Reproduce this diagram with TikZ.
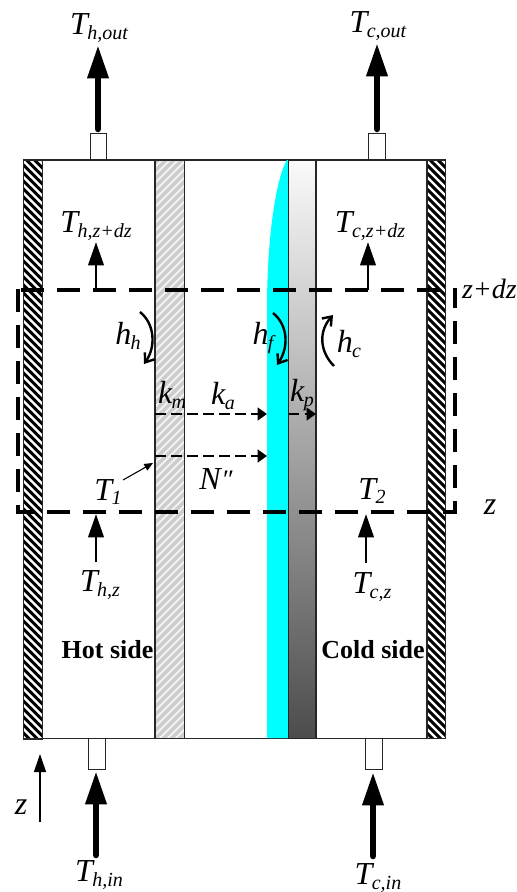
\documentclass[tikz,border=0pt]{standalone}
\usepackage{fontspec}
\setmainfont{Liberation Serif}
\usetikzlibrary{arrows.meta,calc}
\definecolor{flowcyan}{RGB}{0,255,255}
\newcommand{\lbl}[2]{{\fontsize{24}{26}\selectfont\itshape #1}\kern-0.5pt\raisebox{-3.5pt}{\fontsize{15}{16}\selectfont\itshape #2}}
\tikzset{
  x=0.75pt,y=-0.75pt,
  every node/.style={inner sep=0pt,outer sep=0pt,font=\fontsize{24}{26}\selectfont\itshape},
  outline/.style={draw=black!85,line width=0.9pt},
  bigflow/.style={line width=4.9pt,line cap=round,-{Triangle[length=25pt,width=15pt]}},
  midflow/.style={line width=2.2pt,-{Triangle[length=17.5pt,width=11.5pt]}},
  dashline/.style={line width=2.3pt,dash pattern=on 17.25pt off 9.75pt},
  dashflow/.style={line width=1.6pt,dash pattern=on 8pt off 4pt,-{Triangle[length=7pt,width=9.5pt]}},
  curl/.style={line width=1.8pt,-{Straight Barb[length=6pt,width=9pt,line width=1.8pt]}},
  port/.style={draw=black!85,fill=white,line width=0.8pt,minimum width=12.2pt},
  small arrow/.style={line width=0.8pt,-{Triangle[length=6.5pt,width=5.5pt]}},
  axis arrow/.style={line width=0.8pt,-{Triangle[length=13.5pt,width=9pt]}},
}
\newcommand{\hatchbox}[8]{% x1,y1,x2,y2,colour,slope sign,width,background
  \fill[#8] (#1,#2) rectangle (#3,#4);
  \begin{scope}
    \clip (#1,#2) rectangle (#3,#4);
    \foreach \k in {-40,-32,...,640}{
      \draw[#5,line width=#7] (#1-5,#2+\k) -- (#3+5,#2+\k+#6*1.0*#3-#6*1.0*#1+#6*10);
    }
  \end{scope}
  \draw[outline] (#1,#2) rectangle (#3,#4);
}
\begin{document}
\begin{tikzpicture}
\useasboundingbox (0,0) rectangle (517,892);
% frame
\draw[outline] (23.5,160) rectangle (445.5,738.5);
% walls and membrane
\hatchbox{23.5}{160}{42.5}{739}{black}{1}{2.2pt}{white}
\hatchbox{427}{160}{445.5}{738.5}{black}{1}{2.2pt}{white}
\hatchbox{155}{160}{184.5}{738.5}{black!20}{-1}{2.6pt}{black!5}
% condensate film
\fill[flowcyan] (287,160) .. controls (279,172) and (268,220) .. (267,300) -- (267,738) -- (288,738) -- (288,160) -- cycle;
% porous plate
\shade[top color=black!2,bottom color=black!70] (288.5,160) rectangle (316,738.5);
\draw[outline] (288.5,160) rectangle (316,738.5);
% ports
\node[port,anchor=south,minimum height=20pt] (pho) at (98.2,160) {};
\node[port,anchor=south,minimum height=20pt] (pco) at (377,160) {};
\node[port,anchor=north,minimum height=23pt] (phi) at (97,738.5) {};
\node[port,anchor=north,minimum height=23pt] (pci) at (374,738.5) {};
% end labels
\node (tho) at (99,28) {\lbl{T}{h,out}};
\node (tco) at (378,26) {\lbl{T}{c,out}};
\node (thi) at (99,875) {\lbl{T}{h,in}};
\node (tci) at (378,878) {\lbl{T}{c,in}};
% big arrows
\coordinate (ahof) at (98,129);
\coordinate (ahot) at (98,45);
\coordinate (acof) at (377,129);
\coordinate (acot) at (377,43);
\coordinate (ahif) at (96,855);
\coordinate (ahit) at (96,771);
\coordinate (acif) at (373,856);
\coordinate (acit) at (373,772);
\draw[bigflow] (ahof) -- (ahot);
\draw[bigflow] (acof) -- (acot);
\draw[bigflow] (ahif) -- (ahit);
\draw[bigflow] (acif) -- (acit);
% control volume
\coordinate (dtl) at (21,290);
\coordinate (dtr) at (440,290);
\coordinate (vtl) at (18,289);
\coordinate (dbl) at (18,512);
\coordinate (rb) at (455,512);
\coordinate (rt) at (455,288);
\draw[dashline] (dtl) -- (dtr);
\draw[dashline] (vtl) -- (dbl) -- (rb) -- (rt);
% local stream arrows
\node (thzd) at (96,226) {\lbl{T}{h,z+dz}};
\node (tczd) at (370,226) {\lbl{T}{c,z+dz}};
\node (thz) at (100,585) {\lbl{T}{h,z}};
\node (tcz) at (372,587) {\lbl{T}{c,z}};
\coordinate (a1f) at (96,290); \coordinate (a1t) at (96,242);
\coordinate (a2f) at (368,290); \coordinate (a2t) at (368,242);
\coordinate (a3f) at (96,562); \coordinate (a3t) at (96,514);
\coordinate (a4f) at (366,563); \coordinate (a4t) at (366,514);
\draw[midflow] (a1f) -- (a1t);
\draw[midflow] (a2f) -- (a2t);
\draw[midflow] (a3f) -- (a3t);
\draw[midflow] (a4f) -- (a4t);
% temperatures
\node (t1) at (108,492) {\lbl{T}{1}};
\node (t2) at (372,491) {\lbl{T}{2}};
\coordinate (t1a) at (123,480);
\coordinate (t1b) at (153,463);
\draw[small arrow] (t1a) -- (t1b);
% transfer arrows
\coordinate (d1f) at (155,414); \coordinate (d1t) at (267,414);
\coordinate (d2f) at (155,456); \coordinate (d2t) at (267,456);
\coordinate (d3f) at (288.5,414); \coordinate (d3t) at (316,414);
\draw[dashflow] (d1f) -- (d1t);
\draw[dashflow] (d2f) -- (d2t);
\draw[dashflow] (d3f) -- (d3t);
% coefficients
\node (hh) at (128,336) {\lbl{h}{h}};
\node (hf) at (263,338) {\lbl{h}{f}};
\node (hc) at (349,344) {\lbl{h}{c}};
\node (km) at (172,395) {\lbl{k}{m}};
\node (ka) at (223,396) {\lbl{k}{a}};
\node (kp) at (302,395) {\lbl{k}{p}};
\node (nn) at (216,479) {N\kern0.5pt\raisebox{0.5pt}{\fontsize{20}{20}\selectfont\itshape ″}};
\coordinate (c1a) at (140,312); \coordinate (c1b) at (144,364);
\coordinate (c2a) at (273,313); \coordinate (c2b) at (277,365);
\coordinate (c3a) at (334,366); \coordinate (c3b) at (333,315);
\draw[curl] (c1a) .. controls (155,324) and (156,347) .. (c1b);
\draw[curl] (c2a) .. controls (288,325) and (289,347) .. (c2b);
\draw[curl] (c3a) .. controls (320,352) and (318,332) .. (c3b);
% side labels
\node[font=\fontsize{19.5}{22}\selectfont\bfseries] (hot) at (107.5,650) {Hot side};
\node[font=\fontsize{19.5}{22}\selectfont\bfseries] (cold) at (373,650) {Cold side};
% heights
\node[anchor=west,font=\fontsize{21}{24}\selectfont\itshape] (zd) at (462,289) {z+dz};
\node (zz) at (490,507) {z};
\node (zs) at (21,807) {z};
\coordinate (zf) at (40,822); \coordinate (zt) at (40,754);
\draw[axis arrow] (zf) -- (zt);
\end{tikzpicture}
\end{document}
